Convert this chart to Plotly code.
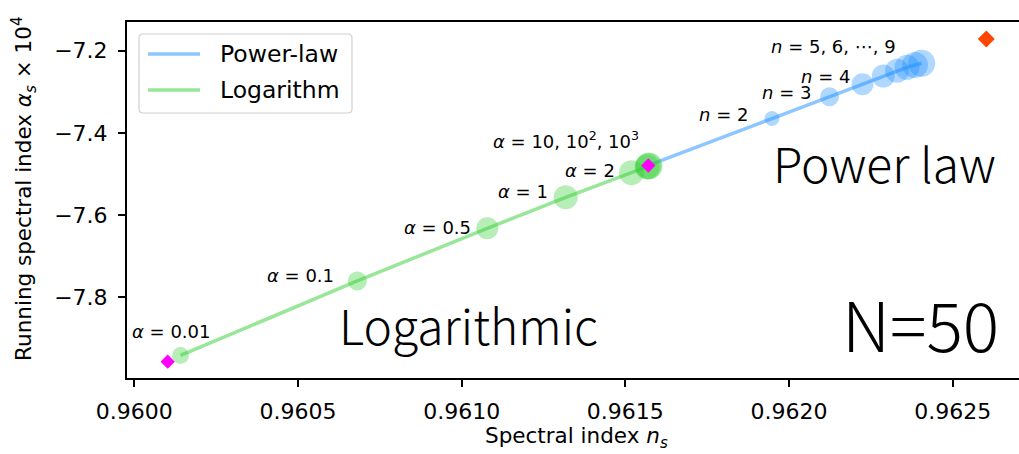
import plotly.graph_objects as go

# Logarithmic potential family: alpha parameter and resulting (n_s, alpha_s x 10^4)
log_alpha = [0.01, 0.1, 0.5, 1, 2, 10, 100, 1000]
log_ns = [0.9601411, 0.9606812, 0.9610783, 0.9613178, 0.9615188, 0.9615662, 0.9615708, 0.9615723]
log_as = [-7.9416, -7.7603, -7.6321, -7.5567, -7.4968, -7.4830, -7.4805, -7.4805]
log_size = [17, 19, 22, 24, 25, 25, 26, 27]

# Power-law family: exponent n and resulting (n_s, alpha_s x 10^4)
pow_n = [1, 2, 3, 4, 5, 6, 7, 8, 9]
pow_ns = [0.9615701, 0.9619480, 0.9621237, 0.9622244, 0.9622880, 0.9623298, 0.9623604, 0.9623849, 0.9624053]
pow_as = [-7.4793, -7.3650, -7.3122, -7.2818, -7.2616, -7.2487, -7.2404, -7.2348, -7.2307]
pow_size = [0, 15, 19, 22, 23, 24, 25, 26, 27]

# Limiting cases
limit_ns = [0.9601020, 0.9615701]
limit_as = [-7.9567, -7.4793]
ref_ns = [0.9626026]
ref_as = [-7.1715]

x_ticks = [0.9600, 0.9605, 0.9610, 0.9615, 0.9620, 0.9625]
y_ticks = [-7.8, -7.6, -7.4, -7.2]

BLUE = "rgba(30,144,255,0.5)"
GREEN = "rgba(50,205,50,0.5)"
TICK_FONT = "DejaVu Sans"
BIG_FONT = "Noto Sans CJK JP"

fig = go.Figure()

fig.add_trace(go.Scatter(x=pow_ns, y=pow_as, mode="lines",
                         line=dict(color=BLUE, width=3.5), showlegend=False))
fig.add_trace(go.Scatter(x=pow_ns[1:], y=pow_as[1:], mode="markers",
                         marker=dict(color=BLUE, size=pow_size[1:], line=dict(width=0)),
                         showlegend=False))
fig.add_trace(go.Scatter(x=log_ns, y=log_as, mode="lines",
                         line=dict(color=GREEN, width=3.5), showlegend=False))
fig.add_trace(go.Scatter(x=log_ns, y=log_as, mode="markers",
                         marker=dict(color=GREEN, size=log_size, line=dict(width=0)),
                         showlegend=False))
fig.add_trace(go.Scatter(x=limit_ns, y=limit_as, mode="markers",
                         marker=dict(symbol="diamond", color="#ff00ff", size=11, line=dict(width=0)),
                         showlegend=False))
fig.add_trace(go.Scatter(x=ref_ns, y=ref_as, mode="markers",
                         marker=dict(symbol="diamond", color="#ff4500", size=13, line=dict(width=0)),
                         showlegend=False))

# Point labels (right-aligned next to each marker)
labels = [
    ("<i>α</i> = 0.01", 0.960238, -7.8844),
    ("<i>α</i> = 0.1", 0.960617, -7.7482),
    ("<i>α</i> = 0.5", 0.961036, -7.6290),
    ("<i>α</i> = 1", 0.961271, -7.5438),
    ("<i>α</i> = 2", 0.961475, -7.4903),
    ("<i>α</i> = 10, 10<sup>2</sup>, 10<sup>3</sup>", 0.961549, -7.4180),
    ("<i>n</i> = 2", 0.961882, -7.3564),
    ("<i>n</i> = 3", 0.962074, -7.3029),
    ("<i>n</i> = 4", 0.962193, -7.2640),
    ("<i>n</i> = 5, 6, ⋯, 9", 0.962334, -7.1910),
]
annotations = []
for text, x, y in labels:
    annotations.append(dict(text=text, x=x, y=y, xref="x", yref="y",
                            xanchor="right", yanchor="middle", showarrow=False,
                            font=dict(family=TICK_FONT, size=18, color="black")))

# Region captions
annotations += [
    dict(text="Power law", x=0.9765, y=0.6065, xref="paper", yref="paper",
         xanchor="right", yanchor="middle", showarrow=False,
         font=dict(family=BIG_FONT, size=48, color="black", weight=300)),
    dict(text="Logarithmic", x=0.2355, y=0.153, xref="paper", yref="paper",
         xanchor="left", yanchor="middle", showarrow=False,
         font=dict(family=BIG_FONT, size=48, color="black", weight=300)),
    dict(text="N=50", x=0.9798, y=0.155, xref="paper", yref="paper",
         xanchor="right", yanchor="middle", showarrow=False,
         font=dict(family=BIG_FONT, size=68, color="black", weight=300)),
]

# Axis titles
annotations += [
    dict(text="Spectral index <i>n<sub>s</sub></i>", x=0.5042, y=-0.166,
         xref="paper", yref="paper", xanchor="center", yanchor="middle",
         showarrow=False, font=dict(family=TICK_FONT, size=21.5, color="black")),
    dict(text="Running spectral index <i>α<sub>s</sub></i> × 10<sup>4</sup>",
         x=-0.1155, y=0.531, xref="paper", yref="paper", textangle=-90,
         xanchor="center", yanchor="middle", showarrow=False,
         font=dict(family=TICK_FONT, size=21.5, color="black")),
]

# Legend (box, line samples, labels)
lx0, lx1, ly0, ly1 = 0.01345, 0.25224, 0.74438, 0.96629
rx, ry = 0.0045, 0.0112
legend_path = (f"M{lx0+rx},{ly1} L{lx1-rx},{ly1} Q{lx1},{ly1} {lx1},{ly1-ry} "
               f"L{lx1},{ly0+ry} Q{lx1},{ly0} {lx1-rx},{ly0} L{lx0+rx},{ly0} "
               f"Q{lx0},{ly0} {lx0},{ly0+ry} L{lx0},{ly1-ry} Q{lx0},{ly1} {lx0+rx},{ly1} Z")
shapes = [
    dict(type="path", path=legend_path, xref="paper", yref="paper",
         line=dict(color="#d0d0d0", width=1.2), fillcolor="rgba(255,255,255,0.8)"),
    dict(type="line", xref="paper", yref="paper", x0=0.02354, x1=0.08184, y0=0.91011, y1=0.91011,
         line=dict(color=BLUE, width=3.5)),
    dict(type="line", xref="paper", yref="paper", x0=0.02354, x1=0.08184, y0=0.80899, y1=0.80899,
         line=dict(color=GREEN, width=3.5)),
]
for text, y in [("Power-law", 0.91011), ("Logarithm", 0.80899)]:
    annotations.append(dict(text=text, x=0.10202, y=y, xref="paper", yref="paper",
                            xanchor="left", yanchor="middle", showarrow=False,
                            font=dict(family=TICK_FONT, size=23.5, color="black")))

fig.update_layout(
    width=1019, height=454,
    margin=dict(l=127, r=0, t=22, b=76),
    paper_bgcolor="white", plot_bgcolor="white",
    annotations=annotations, shapes=shapes, showlegend=False,
    xaxis=dict(range=[0.9599777, 0.9627025], tickvals=x_ticks, tickformat=".4f",
               showgrid=False, zeroline=False, showline=True, mirror=True,
               linecolor="black", linewidth=2, ticks="outside", ticklen=7,
               tickwidth=1.5, tickcolor="black", ticklabelstandoff=6,
               tickfont=dict(family=TICK_FONT, size=22, color="black")),
    yaxis=dict(range=[-7.9964, -7.1302], tickvals=y_ticks, tickformat=".1f",
               showgrid=False, zeroline=False, showline=True, mirror=False,
               linecolor="black", linewidth=2, ticks="outside", ticklen=7,
               tickwidth=1.5, tickcolor="black", ticklabelstandoff=6,
               tickfont=dict(family=TICK_FONT, size=22, color="black")),
)

fig.write_html("out.html")
